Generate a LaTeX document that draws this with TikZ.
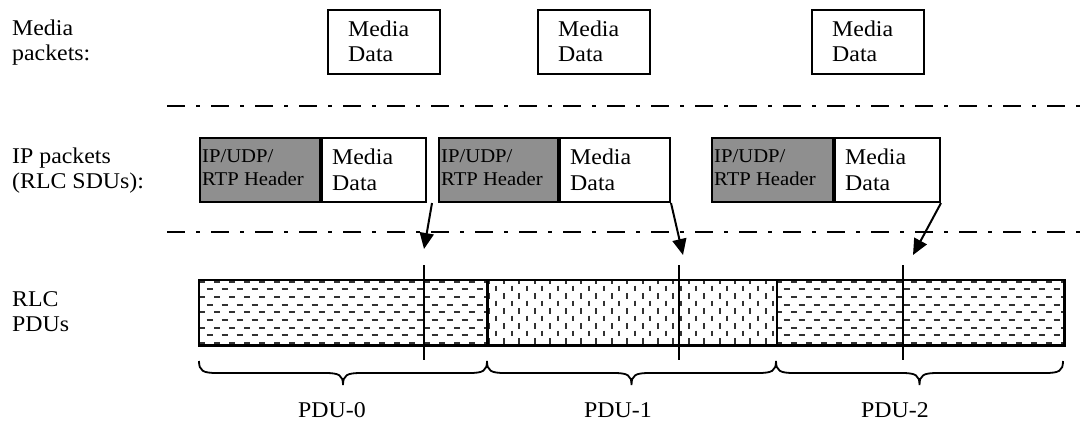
\documentclass[tikz,border=0pt]{standalone}
\usepackage{fontspec}
\setmainfont{Liberation Serif}[FakeStretch=1.06]
\usetikzlibrary{arrows.meta}
\definecolor{hdrgray}{RGB}{143,143,143}
\definecolor{patgray}{RGB}{50,50,50}
% #1 style, #2 name, #3 x, #4 first baseline, #5 line skip, #6 line 1, #7 line 2
\newcommand\twolines[7]{%
  \node[#1,anchor=base west] (#2a) at (#3,#4) {#6};
  \node[#1,anchor=base west] (#2b) at (#3,#4+#5) {#7};}
\begin{document}
\begin{tikzpicture}[x=1pt,y=-1pt,
  txt/.style={inner sep=0pt,font=\fontsize{22.5}{25}\selectfont},
  htxt/.style={inner sep=0pt,font=\fontsize{19.5}{23}\selectfont},
  mbox/.style={draw,line width=2pt,minimum width=112pt,minimum height=64pt,anchor=north west,inner sep=0pt},
  hbox/.style={draw,line width=2pt,fill=hdrgray,minimum height=64pt,anchor=north west,inner sep=0pt},
  dbox/.style={draw,line width=2pt,fill=white,minimum height=64pt,anchor=north west,inner sep=0pt},
  seg/.style={minimum height=65pt,anchor=north west,inner sep=0pt},
  sepline/.style={line width=2.4pt,dash pattern=on 18pt off 11pt on 4pt off 11pt},
  arr/.style={line width=2pt,-{Triangle[length=16pt,width=14pt]}},
  vline/.style={line width=2.4pt},
  barline/.style={line width=2.6pt},
  hpat/.style={patgray,line width=2pt,dash pattern=on 6pt off 9pt},
  vpat/.style={patgray,line width=2pt,dash pattern=on 5.5pt off 9.5pt},
  brace/.style={line width=1.8pt}]
\useasboundingbox (0,0) rectangle (1083,423);

% left labels
\twolines{txt}{lm}{12}{35}{25}{Media}{packets:}
\twolines{txt}{lip}{12}{163}{25}{IP packets}{(RLC SDUs):}
\twolines{txt}{lr}{12}{306}{25}{RLC}{PDUs}

% media packets
\node[mbox] (mb1) at (327,9) {};
\node[mbox] (mb2) at (537,9) {};
\node[mbox] (mb3) at (811,9) {};
\twolines{txt}{mt1}{348}{36}{25}{Media}{Data}
\twolines{txt}{mt2}{558}{36}{25}{Media}{Data}
\twolines{txt}{mt3}{832}{36}{25}{Media}{Data}

% separators
\coordinate (s1a) at (167,106); \coordinate (s1b) at (1083,106);
\coordinate (s2a) at (167,232); \coordinate (s2b) at (1083,232);
\draw[sepline] (s1a) -- (s1b);
\draw[sepline] (s2a) -- (s2b);

% IP packets
\node[hbox,minimum width=120pt] (h1) at (199,137) {};
\node[dbox,minimum width=104pt] (d1) at (h1.north east) {};
\node[hbox,minimum width=119pt] (h2) at (438,137) {};
\node[dbox,minimum width=110pt] (d2) at (h2.north east) {};
\node[hbox,minimum width=121pt] (h3) at (711,137) {};
\node[dbox,minimum width=105pt] (d3) at (h3.north east) {};
\twolines{htxt}{ht1}{202}{162}{23}{IP/UDP/}{RTP Header}
\twolines{htxt}{ht2}{441}{162}{23}{IP/UDP/}{RTP Header}
\twolines{htxt}{ht3}{714}{162}{23}{IP/UDP/}{RTP Header}
\twolines{txt}{dt1}{332}{164}{26}{Media}{Data}
\twolines{txt}{dt2}{570}{164}{26}{Media}{Data}
\twolines{txt}{dt3}{845}{164}{26}{Media}{Data}

% RLC PDU bar
\node[seg,minimum width=288pt] (p0) at (199,280) {};
\node[seg,minimum width=289pt] (p1) at (p0.north east) {};
\node[seg,minimum width=287pt] (p2) at (p1.north east) {};

\begin{scope}
  \clip (p0.south west) rectangle (p0.north east);
  \foreach \k in {0,...,8} {
    \pgfmathsetmacro\yy{281.5+7.7*\k}
    \pgfmathsetmacro\ph{mod(\k,2)*7.5}
    \draw[hpat] (199-\ph,\yy) -- (490,\yy);
  }
\end{scope}
\begin{scope}
  \clip (p2.south west) rectangle (p2.north east);
  \foreach \k in {0,...,8} {
    \pgfmathsetmacro\yy{281.5+7.7*\k}
    \pgfmathsetmacro\ph{mod(\k,2)*7.5}
    \draw[hpat] (776-\ph,\yy) -- (1066,\yy);
  }
\end{scope}
\begin{scope}
  \clip (p1.south west) rectangle (p1.north east);
  \foreach \k in {0,...,37} {
    \pgfmathsetmacro\xx{488.5+7.7*\k}
    \pgfmathsetmacro\ph{mod(\k,2)*7.5}
    \draw[vpat] (\xx,278-\ph) -- (\xx,348);
  }
\end{scope}
\draw[barline] (p0.south west) rectangle (p0.north east);
\draw[barline] (p1.south west) rectangle (p1.north east);
\draw[barline] (p2.south west) rectangle (p2.north east);

% split lines
\coordinate (v1a) at (424,265); \coordinate (v1b) at (424,360);
\coordinate (v2a) at (679,265); \coordinate (v2b) at (679,360);
\coordinate (v3a) at (903,265); \coordinate (v3b) at (903,360);
\draw[vline] (v1a) -- (v1b);
\draw[vline] (v2a) -- (v2b);
\draw[vline] (v3a) -- (v3b);

% arrows
\coordinate (t1) at (424,249);
\coordinate (t2) at (683,255);
\coordinate (t3) at (913,255);
\draw[arr] ([xshift=5pt]d1.south east) -- (t1);
\draw[arr] (d2.south east) -- (t2);
\draw[arr] (d3.south east) -- (t3);

% braces
\foreach \a/\b in {199/487, 487/776, 776/1063} {
  \pgfmathsetmacro\m{(\a+\b)/2}
  \draw[brace] (\a,361) .. controls (\a,371) and (\a+4,373) .. (\a+18,373)
    -- (\m-18,373) .. controls (\m-4,373) and (\m,375) .. (\m,385)
    .. controls (\m,375) and (\m+4,373) .. (\m+18,373)
    -- (\b-18,373) .. controls (\b-4,373) and (\b,371) .. (\b,361);
}

% PDU labels
\node[txt,anchor=base] (pl0) at (332,417) {PDU-0};
\node[txt,anchor=base] (pl1) at (618,417) {PDU-1};
\node[txt,anchor=base] (pl2) at (895,417) {PDU-2};
\end{tikzpicture}
\end{document}
